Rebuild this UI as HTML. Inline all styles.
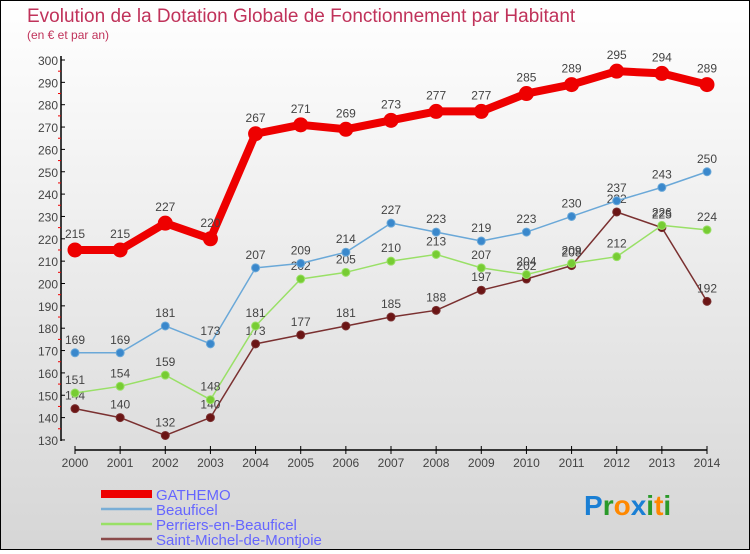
<!DOCTYPE html>
<html><head><meta charset="utf-8"><style>
html,body{margin:0;padding:0;}
body{width:750px;height:550px;overflow:hidden;font-family:"Liberation Sans",sans-serif;}
#wrap{position:relative;width:748px;height:548px;border:1px solid #000;background:linear-gradient(#ffffff,#d6d6d6);}
svg text{font-family:"Liberation Sans",sans-serif;}
</style></head><body>
<div id="wrap">
<svg id="chart" width="748" height="548">
<text x="26" y="21" font-size="19" fill="#c0325a">Evolution de la Dotation Globale de Fonctionnement par Habitant</text>
<text x="26" y="38" font-size="12" fill="#c0325a">(en € et par an)</text>
</svg>
</div>
<script>
const years=[2000,2001,2002,2003,2004,2005,2006,2007,2008,2009,2010,2011,2012,2013,2014];
const gathemo=[215,215,227,220,267,271,269,273,277,277,285,289,295,294,289];
const beauficel=[169,169,181,173,207,209,214,227,223,219,223,230,237,243,250];
const perriers=[151,154,159,148,181,202,205,210,213,207,204,209,212,226,224];
const saintMichel=[144,140,132,140,173,177,181,185,188,197,202,208,232,225,192];
const yTicks=[130,140,150,160,170,180,190,200,210,220,230,240,250,260,270,280,290,300];
const seriesNames=["GATHEMO","Beauficel","Perriers-en-Beauficel","Saint-Michel-de-Montjoie"];

const svg=document.getElementById('chart');
const NS='http://www.w3.org/2000/svg';
function X(i){return 74+i*(632/(years.length-1));}
function Y(v){return 59+(300-v)*2.235;}
function mk(t,a,p){const e=document.createElementNS(NS,t);for(const k in a)e.setAttribute(k,a[k]);(p||svg).appendChild(e);return e;}

// y axis
let ax=mk('line',{x1:60,y1:55,x2:60,y2:440,stroke:'#000','stroke-width':1.5});


yTicks.forEach((v,i)=>{
  mk('line',{x1:60,y1:Y(v),x2:64,y2:Y(v),stroke:'#000'});
  if(i<yTicks.length-1) mk('line',{x1:57,y1:Y(v+5),x2:60,y2:Y(v+5),stroke:'#e00'});
  const t=mk('text',{x:57,y:Y(v)+5,'font-size':12,fill:'#444','text-anchor':'end'});
  t.textContent=v;
  
  
});
// x axis
let xa=mk('line',{x1:X(0),y1:449,x2:X(14),y2:449,stroke:'#000','stroke-width':1.5});


years.forEach((y,i)=>{
  mk('line',{x1:X(i),y1:445,x2:X(i),y2:453,stroke:'#000'});
  const t=mk('text',{x:X(i),y:466,'font-size':12,fill:'#444','text-anchor':'middle'});
  t.textContent=y;
  
  
});

function drawSeries(data,color,dot,lw,r,name){
  const g=mk('g',{});
  
  
  mk('polyline',{points:data.map((v,i)=>X(i)+','+Y(v)).join(' '),fill:'none',stroke:color,'stroke-width':lw,'stroke-linejoin':'round'},g);
  data.forEach((v,i)=>{
    const c=mk('circle',{cx:X(i),cy:Y(v),r:r,fill:dot,stroke:color,'stroke-width':1},g);
    
    
    const t=mk('text',{x:X(i),y:Y(v)-r-5,'font-size':12,fill:'#444','text-anchor':'middle'},g);
    t.textContent=v;
    
    
  });
}
drawSeries(saintMichel,'#7a3030','#6b1515',1.5,4,'saint-michel-series');
drawSeries(perriers,'#99e066','#77cc33',1.5,4,'perriers-series');
drawSeries(beauficel,'#6aa8d8','#3a88cc',1.5,4,'beauficel-series');
drawSeries(gathemo,'#ee0000','#ee0000',8,7,'gathemo-series');

// legend
const colors=['#ee0000','#7aaed6','#99e066','#8a4a4a'];
const widths=[8,2.5,2.5,2.5];
seriesNames.forEach((n,i)=>{
  const y=493+i*15;
  const l=mk('line',{x1:100,y1:y,x2:151,y2:y,stroke:colors[i],'stroke-width':widths[i]});
  
  
  const t=mk('text',{x:155,y:y+6,'font-size':15,fill:'#6666ff'});
  t.textContent=n;
  
  
});
// logo
const logo=mk('text',{x:583,y:514,'font-size':28,'font-weight':'bold'});


[['P','#1a7fd4'],['r','#2a9a2a'],['o','#ff8800'],['x','#1a7fd4'],['i','#2a9a2a'],['t','#ff8800'],['i','#2a9a2a']].forEach(([c,col])=>{
  const s=mk('tspan',{fill:col},logo);s.textContent=c;
});
</script>
</body></html>
